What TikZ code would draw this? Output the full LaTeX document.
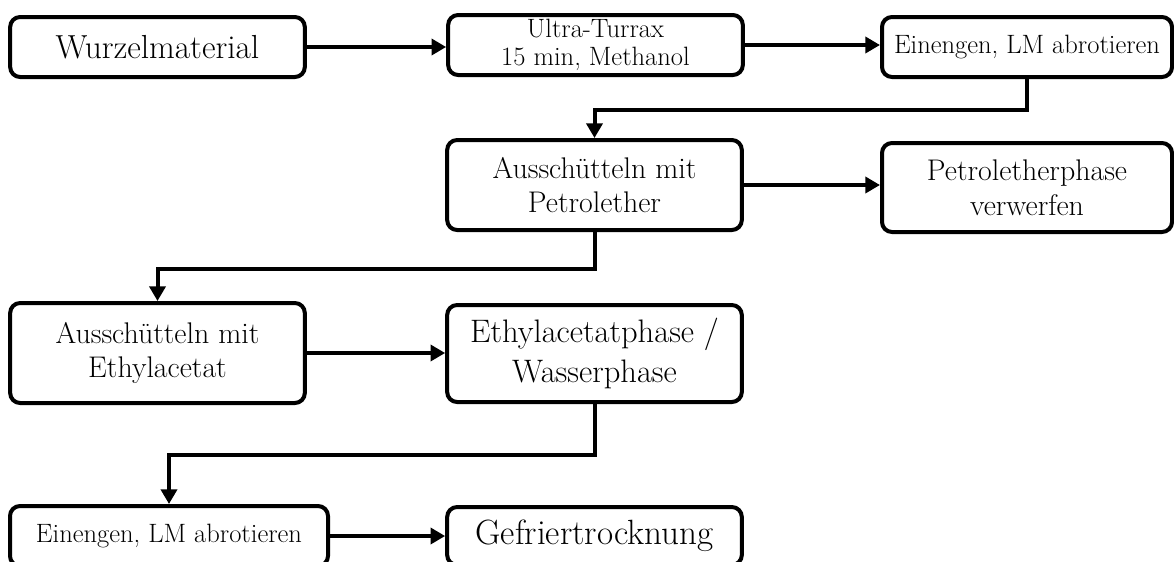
\documentclass[tikz,border=0pt]{standalone}
\usetikzlibrary{arrows.meta}
\tikzset{
  box/.style={draw, line width=3pt, rounded corners=7.5pt, fill=white, align=center, inner sep=0pt},
  pfeil/.style={line width=3pt, -{Triangle[length=11pt,width=12pt]}},
  gross/.style={font=\fontsize{25}{30}\selectfont},
  mittel/.style={font=\fontsize{22.4}{26}\selectfont},
  klein/.style={font=\fontsize{19.9}{21}\selectfont},
}
\begin{document}
\begin{tikzpicture}[x=0.75pt,y=-0.75pt]
      \clip (0,0) rectangle (1174,561);
      % erste Reihe
      \node [box, gross, minimum width=221pt, minimum height=45pt] (W) at (157.5,47) {Wurzelmaterial};
      \node [box, klein, minimum width=221pt, minimum height=45pt] (U) at (595.5,45) {Ultra-Turrax\\15 min, Methanol};
      \node [box, klein, minimum width=217.5pt, minimum height=45pt] (E1) at (1027,47) {Einengen, LM abrotieren};
      % zweite Reihe
      \node [box, mittel, minimum width=221pt, minimum height=67.5pt] (P) at (594.5,185) {Aussch\"utteln mit\\Petrolether};
      \node [box, mittel, minimum width=217.5pt, minimum height=66.75pt] (V) at (1027,187.5) {Petroletherphase\\verwerfen};
      % dritte Reihe
      \node [box, mittel, minimum width=221pt, minimum height=75pt] (A) at (157.5,353) {Aussch\"utteln mit\\Ethylacetat};
      \node [box, gross, font=\fontsize{24.4}{30}\selectfont, minimum width=221pt, minimum height=72.75pt] (EW) at (594.5,353.5) {Ethylacetatphase /\\Wasserphase};
      % vierte Reihe
      \node [box, klein, minimum width=238.5pt, minimum height=45pt] (E2) at (169,536) {Einengen, LM abrotieren};
      \node [box, gross, font=\fontsize{26.3}{28}\selectfont, minimum width=221pt, minimum height=43.5pt] (G) at (594.5,536) {Gefriertrocknung};
      % Pfeile
      \draw [pfeil] (W.east) -- (W.east -| U.west);
      \draw [pfeil] (U.east) -- (U.east -| E1.west);
      \draw [pfeil] (E1.south) -- ++(0,31) -| (P.north);
      \draw [pfeil] (P.east) -- (P.east -| V.west);
      \draw [pfeil] (P.south) -- ++(0,37) -| (A.north);
      \draw [pfeil] (A.east) -- (A.east -| EW.west);
      \draw [pfeil] (EW.south) -- ++(0,51) -| (E2.north);
      \draw [pfeil] (E2.east) -- (E2.east -| G.west);
    %   \draw (E2) -- (G);
\end{tikzpicture}
\end{document}
